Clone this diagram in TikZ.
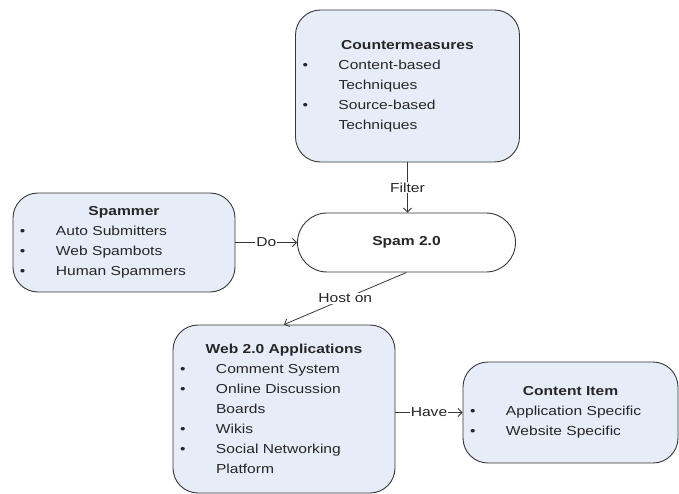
\documentclass[tikz,border=0pt]{standalone}
\usepackage{fontspec}
\setmainfont{Liberation Sans}[FakeStretch=1.2]
\usepackage{xcolor}
\usepackage{tikz}
\usetikzlibrary{positioning, arrows.meta}
\definecolor{boxblue}{RGB}{230,236,248}
\definecolor{edgegray}{RGB}{55,55,55}
\tikzstyle{infobox} = [rectangle, rounded corners=25bp, draw=edgegray, line width=0.9bp, fill=boxblue, text=black!85, inner xsep=7bp, inner ysep=0bp, align=left, font=\fontsize{13bp}{20bp}\selectfont]
\tikzstyle{pill} = [rectangle, rounded corners=29.5bp, minimum width=218bp, minimum height=59bp, draw=edgegray, line width=0.9bp, fill=white, text=black!85, font=\bfseries\fontsize{13bp}{20bp}\selectfont]
\tikzstyle{arrow} = [draw=edgegray, line width=0.8bp, -{Straight Barb[length=4bp,width=8bp]}]
\tikzstyle{lbl} = [fill=white, inner sep=1bp, text=black!85, font=\fontsize{13bp}{16bp}\selectfont]
\newcommand{\boxhead}[1]{\makebox[\hsize][c]{\bfseries #1}}
\newcommand{\bitem}[1]{\makebox[36bp][l]{\textbullet}#1}
\newcommand{\bmore}[1]{\hspace*{36bp}#1}

\begin{document}
\begin{tikzpicture}[x=1bp, y=1bp, node distance=160bp]
\useasboundingbox (0,0) rectangle (679,-494);

% Nodes
\node (spam) [pill] at (406.5,-242.5) {Spam 2.0};
\node (counter) [infobox, above of=spam, xshift=1bp, yshift=-3.5bp, text width=210bp, minimum height=152bp] {\boxhead{Countermeasures}\\ \bitem{Content-based}\\ \bmore{Techniques}\\ \bitem{Source-based}\\ \bmore{Techniques}};
\node (spammer) [infobox, left of=spam, xshift=-122.5bp, text width=208bp, minimum height=99bp] {\boxhead{Spammer}\\ \bitem{Auto Submitters}\\ \bitem{Web Spambots}\\ \bitem{Human Spammers}};
\node (web) [infobox, below of=spam, xshift=-122.5bp, yshift=-6.5bp, text width=208bp, minimum height=168bp] {\boxhead{Web 2.0 Applications}\\ \bitem{Comment System}\\ \bitem{Online Discussion}\\ \bmore{Boards}\\ \bitem{Wikis}\\ \bitem{Social Networking}\\ \bmore{Platform}};
\node (content) [infobox, right of=web, xshift=126.5bp, yshift=-3.5bp, text width=201bp, minimum height=101bp] {\boxhead{Content Item}\\ \bitem{Application Specific}\\ \bitem{Website Specific}};

% Arrows
\draw [arrow] (counter.south) -- node[lbl] {Filter} (counter.south |- spam.north);
\draw [arrow] (spammer.east) -- node[lbl] {Do} (spam.west);
\draw [arrow] (spam.south) -- node[lbl] {Host on} (web.north);
\draw [arrow] (web.east |- content.west) -- node[lbl] {Have} (content.west);

\end{tikzpicture}
\end{document}
